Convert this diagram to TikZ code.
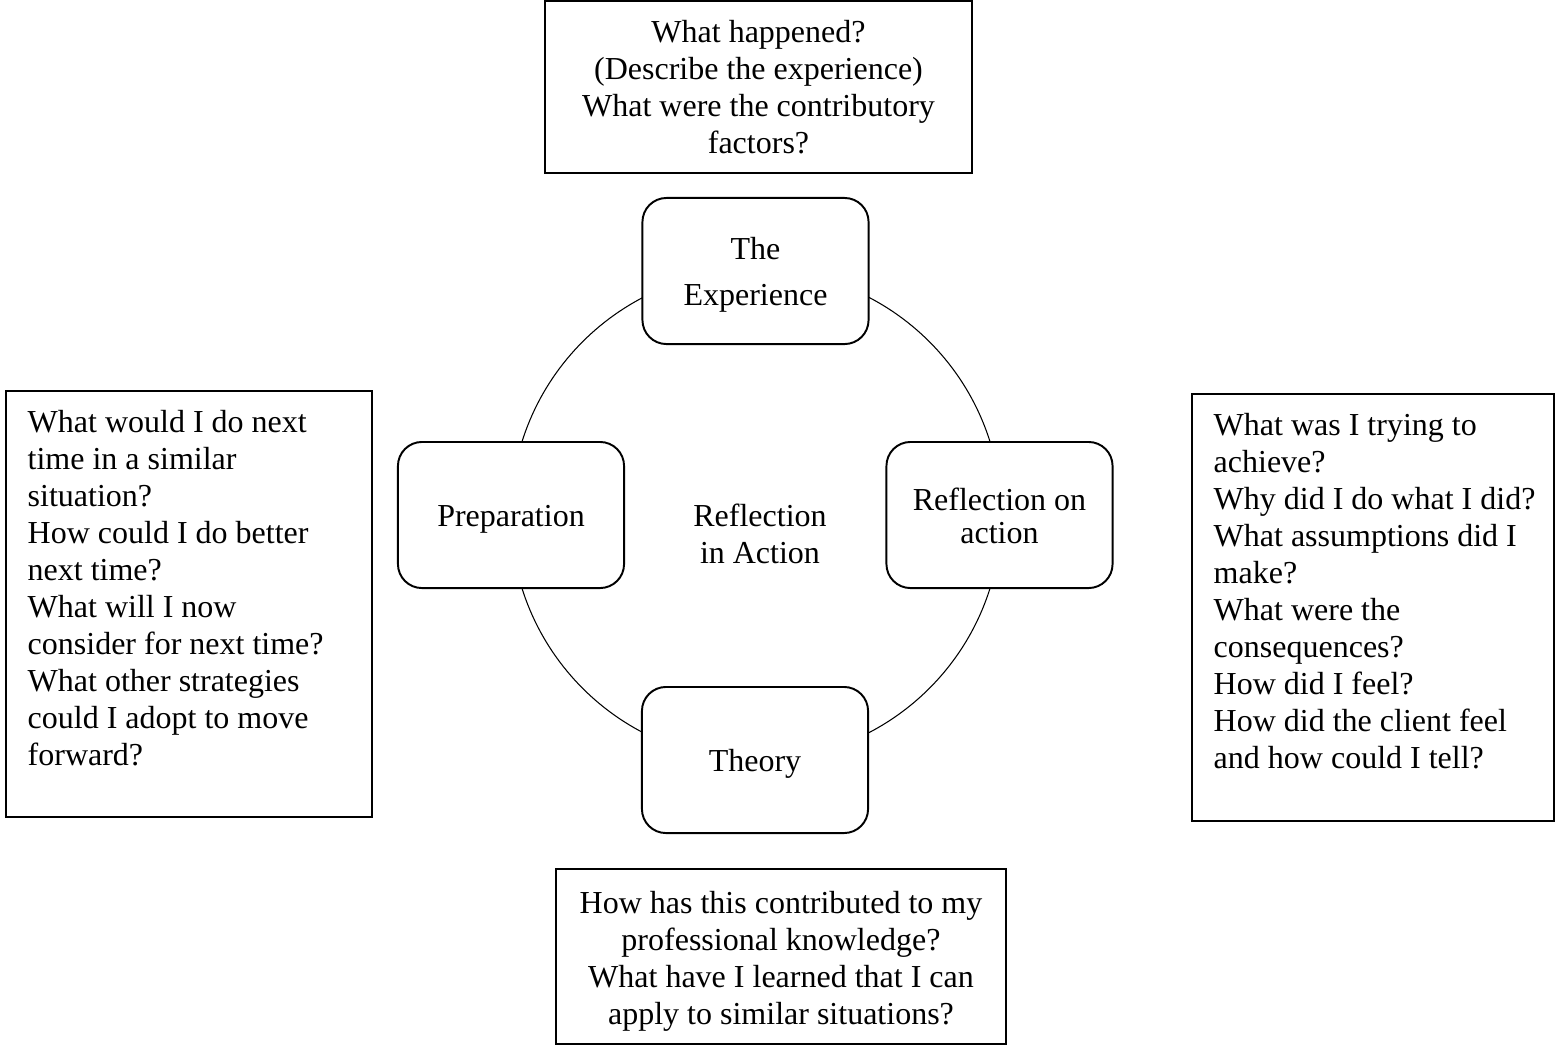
\documentclass[tikz,border=0pt]{standalone}
\usepackage{fontspec}
\setmainfont{Liberation Serif}
\usepackage{tikz}

\begin{document}
\begin{tikzpicture}[x=0.01cm,y=-0.01cm,
    every node/.style={font=\fontsize{9.1pt}{10.5pt}\selectfont},
    qbox/.style={draw,line width=0.55pt,rectangle},
    stage/.style={draw,line width=0.55pt,rounded corners=0.24cm,fill=white,
      minimum width=2.26cm,minimum height=1.46cm},
    stagelabel/.style={align=center,yshift=-0.04cm}]
  \useasboundingbox (0,0) rectangle (1558,1045);
  % cycle
  \coordinate (hub) at (756,515);
  \draw[line width=0.3pt] (hub) circle (2.45cm);
  \node[stage,label={[stagelabel]center:The\\[2.6pt]Experience}] (experience) at (755.5,271) {};
  \node[stage,label={[stagelabel,yshift=0.03cm]center:Reflection on\\[-1.2pt]action}] (reflect) at (999.5,515) {};
  \node[stage,label={[stagelabel]center:Theory}] (theory) at (755,760) {};
  \node[stage,label={[stagelabel]center:Preparation}] (prep) at (511,515) {};
  \node[align=center] (inaction) at (760,534) {Reflection\\in Action};
  % question boxes
  \node[qbox,minimum width=4.27cm,minimum height=1.72cm,align=center] (expq) at (758.5,87)
    {What happened?\\(Describe the experience)\\What were the contributory\\factors?};
  \node[qbox,minimum width=4.50cm,minimum height=1.75cm,
    label={[align=center,yshift=-0.05cm]center:How has this contributed to my\\professional knowledge?\\What have I learned that I can\\apply to similar situations?}] (theoryq) at (781,956.5) {};
  \node[qbox,minimum width=3.66cm,minimum height=4.26cm,anchor=north west] (prepq) at (5,390) {};
  \node[anchor=north west,align=left,inner sep=0pt] (preptext) at (27,410)
    {What would I do next\\time in a similar\\situation?\\How could I do better\\next time?\\What will I now\\consider for next time?\\What other strategies\\could I adopt to move\\forward?};
  \node[qbox,minimum width=3.62cm,minimum height=4.27cm,anchor=north west] (reflectq) at (1191,393) {};
  \node[anchor=north west,align=left,inner sep=0pt] (reflecttext) at (1213,413)
    {What was I trying to\\achieve?\\Why did I do what I did?\\What assumptions did I\\make?\\What were the\\consequences?\\How did I feel?\\How did the client feel\\and how could I tell?};
\end{tikzpicture}
\end{document}
